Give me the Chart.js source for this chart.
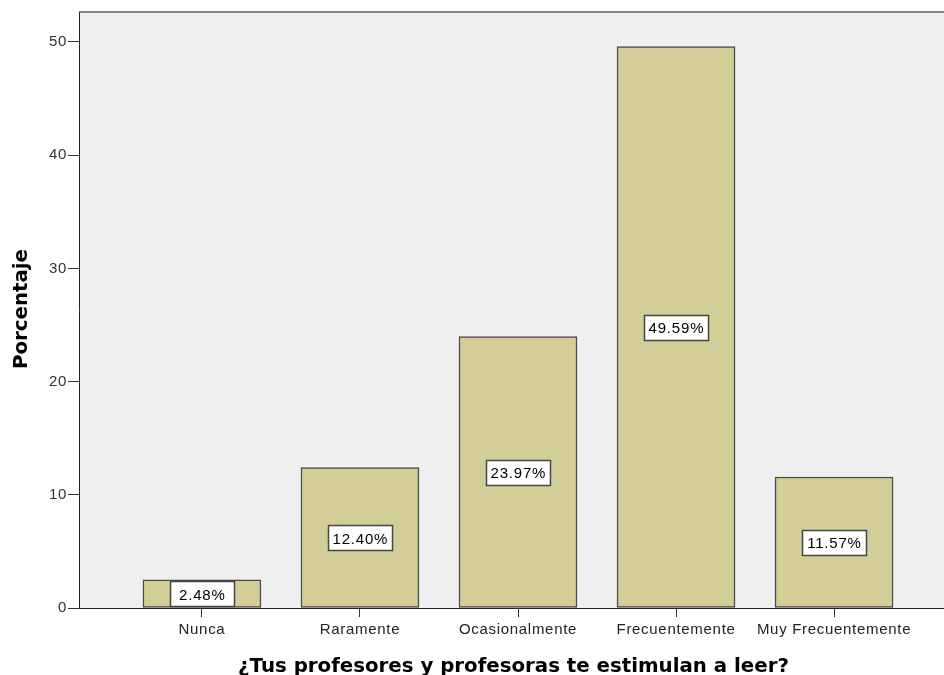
<!DOCTYPE html>
<html>
<head>
<meta charset="utf-8">
<script src="https://cdn.jsdelivr.net/npm/chart.js@4/dist/chart.umd.min.js"></script>
<style>
html,body{margin:0;padding:0;overflow:hidden;background:#fff;width:944px;height:675px;}
#wrap{position:absolute;left:0;top:0;width:957px;height:675px;}
</style>
</head>
<body>
<div id="wrap"><canvas id="c" width="957" height="675"></canvas></div>
<script>
const categories = ["Nunca", "Raramente", "Ocasionalmente", "Frecuentemente", "Muy Frecuentemente"];
const percentages = [2.48, 12.40, 23.97, 49.59, 11.57];
const yTicks = [0, 10, 20, 30, 40, 50];
const xTitle = "¿Tus profesores y profesoras te estimulan a leer?";
const yTitle = "Porcentaje";

const FONT = "'Liberation Sans', Arial, sans-serif";
const TITLE_FONT = "'DejaVu Sans', Verdana, sans-serif";

function spacedText(ctx, txt, cx, by, spacing) {
  ctx.letterSpacing = spacing + 'px';
  const w = ctx.measureText(txt).width - spacing;
  ctx.textAlign = 'left';
  ctx.textBaseline = 'alphabetic';
  ctx.fillText(txt, cx - w / 2, by);
}

const bgPlugin = {
  id: 'bg',
  beforeDraw(chart) {
    const {ctx, chartArea: a} = chart;
    ctx.save();
    ctx.fillStyle = '#EFEFEF';
    ctx.fillRect(a.left, a.top, a.right - a.left, a.bottom - a.top);
    ctx.strokeStyle = '#888888';
    ctx.lineWidth = 2;
    ctx.beginPath();
    ctx.moveTo(a.left, a.top);
    ctx.lineTo(a.right, a.top);
    ctx.stroke();
    ctx.restore();
    ctx.letterSpacing = '0.7px';
  },
  afterDraw(chart) {
    const {ctx} = chart;
    ctx.save();
    ctx.fillStyle = '#000';
    ctx.font = "bold 19.8px " + TITLE_FONT;
    spacedText(ctx, xTitle, 513.5, 672, 0);
    ctx.translate(27, 309);
    ctx.rotate(-Math.PI / 2);
    spacedText(ctx, yTitle, 0, 0, 0);
    ctx.restore();
  }
};

const labelPlugin = {
  id: 'vals',
  afterDatasetsDraw(chart) {
    const {ctx} = chart;
    const meta = chart.getDatasetMeta(0);
    ctx.save();
    ctx.font = "15px " + FONT;
    meta.data.forEach((bar, i) => {
      const txt = percentages[i].toFixed(2) + '%';
      const cy = (bar.y + bar.base) / 2;
      const w = 64;
      const h = 25;
      const x0 = Math.round(bar.x - w / 2) + 0.5;
      const y0 = Math.round(cy - h / 2) + 0.5;
      ctx.letterSpacing = '0px';
      ctx.fillStyle = '#FFFFFF';
      ctx.fillRect(x0, y0, w, h);
      ctx.strokeStyle = '#444444';
      ctx.lineWidth = 1.5;
      ctx.strokeRect(x0, y0, w, h);
      ctx.fillStyle = '#000000';
      spacedText(ctx, txt, bar.x, cy + 6, 0.8);
    });
    ctx.restore();
  }
};

new Chart(document.getElementById('c'), {
  type: 'bar',
  data: {
    datasets: [{
      data: percentages.map((v, i) => ({x: i, y: v})),
      backgroundColor: '#D3CE97',
      borderColor: '#4A4A4A',
      borderWidth: 1.5,
      borderSkipped: false,
      barThickness: 118
    }]
  },
  options: {
    responsive: false,
    animation: false,
    layout: {padding: {top: 12, left: 0, right: 0, bottom: 0}},
    plugins: {legend: {display: false}, tooltip: {enabled: false}},
    scales: {
      x: {
        type: 'linear',
        offset: false,
        min: -0.778,
        max: 4.778,
        afterBuildTicks(scale) { scale.ticks = categories.map((_, i) => ({value: i})); },
        afterFit(scale) { scale.height = 67; },
        ticks: {
          callback: (v) => categories[v],
          color: '#222',
          font: {family: FONT, size: 15},
          padding: 4,
          maxRotation: 0,
          autoSkip: false
        },
        grid: {display: true, offset: false, drawOnChartArea: false, drawTicks: true, tickLength: 9, color: '#333', tickWidth: 1},
        border: {display: true, color: '#222', width: 1},
        title: {display: false}
      },
      y: {
        min: 0,
        max: 52.65,
        afterBuildTicks(scale) { scale.ticks = yTicks.map(v => ({value: v})); },
        afterFit(scale) { scale.width = 79; },
        ticks: {color: '#333', font: {family: FONT, size: 15}, padding: 1},
        grid: {display: true, drawOnChartArea: false, drawTicks: true, tickLength: 11, color: '#333'},
        border: {display: true, color: '#222', width: 1},
        title: {display: false}
      }
    }
  },
  plugins: [bgPlugin, labelPlugin]
});
</script>
</body>
</html>
